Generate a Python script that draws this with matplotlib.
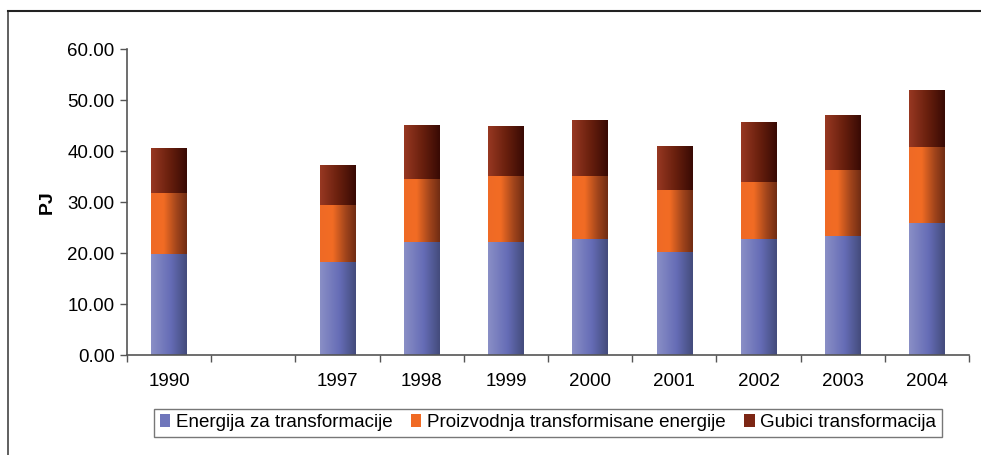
#!/usr/bin/env python3
"""Stacked bars: energy transformation (PJ) 1990, 1997-2004."""

import numpy as np
import matplotlib
matplotlib.use("Agg")
import matplotlib.pyplot as plt
from matplotlib.colors import LinearSegmentedColormap
from matplotlib.patches import Patch
from matplotlib.lines import Line2D

plt.rcParams["font.family"] = ["Liberation Sans", "DejaVu Sans"]

# empty slot between 1990 and 1997 is kept as a blank category
years = ["1990", "", "1997", "1998", "1999", "2000", "2001", "2002", "2003", "2004"]
energija = [19.8, None, 18.3, 22.2, 22.2, 22.8, 20.3, 22.8, 23.4, 25.9]
proizvodnja = [12.0, None, 11.1, 12.3, 12.9, 12.3, 12.1, 11.1, 12.9, 14.9]
gubici = [8.8, None, 7.9, 10.6, 9.8, 11.0, 8.6, 11.8, 10.8, 11.2]

labels = ["Energija za transformacije", "Proizvodnja transformisane energije",
          "Gubici transformacija"]

# horizontal gradients, Excel style
grads = [
    LinearSegmentedColormap.from_list("blue", [(0, "#8a8fc6"), (0.55, "#656cb6"), (1, "#434b7b")]),
    LinearSegmentedColormap.from_list("orange", [(0, "#ef6a26"), (0.35, "#f26c24"), (0.7, "#a4461c"), (1, "#702c13")]),
    LinearSegmentedColormap.from_list("red", [(0, "#983822"), (0.5, "#6a200e"), (1, "#380a04")]),
]
solid = ["#6f76bb", "#f06a24", "#7c2614"]


def gradient_bar(ax, x, bottom, height, width, cmap):
    bars = ax.bar(x, height, width, bottom=bottom, color="none", edgecolor="none")
    patch = bars[0]
    grad = np.linspace(0, 1, 256).reshape(1, -1)
    im = ax.imshow(grad, cmap=cmap, aspect="auto", interpolation="bicubic",
                   extent=(x - width / 2, x + width / 2, bottom, bottom + height),
                   zorder=2)
    im.set_clip_path(patch)


def main():
    fig = plt.figure(figsize=(9.81, 4.55), dpi=100)
    ax = fig.add_axes([0.1295, 0.219, 0.8583, 0.673])

    width = 0.42
    for i in range(len(years)):
        if energija[i] is None:
            continue
        bottom = 0.0
        for vals, cmap in zip((energija, proizvodnja, gubici), grads):
            gradient_bar(ax, i, bottom, vals[i], width, cmap)
            bottom += vals[i]

    ax.set_xlim(-0.5, len(years) - 0.5)
    ax.set_ylim(0, 60)
    ax.set_yticks(np.arange(0, 61, 10))
    ax.set_yticklabels([f"{v:.2f}" for v in np.arange(0, 61, 10)], fontsize=13.5)
    ax.set_xticks(range(len(years)))
    ax.set_xticklabels(years, fontsize=13.5)
    ax.set_xticks(np.arange(-0.5, len(years)), minor=True)
    ax.tick_params(axis="x", which="major", length=0, pad=13)
    ax.tick_params(axis="x", which="minor", length=5, width=1, color="#555555")
    ax.tick_params(axis="y", length=5, width=1, color="#555555", pad=4)

    for side in ("top", "right"):
        ax.spines[side].set_visible(False)
    for side in ("left", "bottom"):
        ax.spines[side].set_color("#555555")
        ax.spines[side].set_linewidth(1.2)

    ax.set_ylabel("PJ", fontsize=14, fontweight="bold", labelpad=8)

    handles = [Patch(facecolor=c, edgecolor="none") for c in solid]
    leg = fig.legend(handles, labels, loc="center", bbox_to_anchor=(0.5585, 0.0705),
                     ncol=3, fontsize=13.5, frameon=True, fancybox=False,
                     edgecolor="#555555", handlelength=0.55, handleheight=0.7,
                     handletextpad=0.3, columnspacing=1.0, borderpad=0.3,
                     borderaxespad=0)
    leg.get_frame().set_linewidth(1.0)

    # outer chart border (top and left only visible)
    fig.add_artist(Line2D([8 / 981, 8 / 981], [0, 1 - 11 / 455], transform=fig.transFigure,
                          color="#444444", lw=1.2))
    fig.add_artist(Line2D([8 / 981, 1], [1 - 11 / 455, 1 - 11 / 455], transform=fig.transFigure,
                          color="#222222", lw=1.5))

    fig.savefig("out.png", dpi=100)
    plt.close(fig)


if __name__ == "__main__":
    main()
